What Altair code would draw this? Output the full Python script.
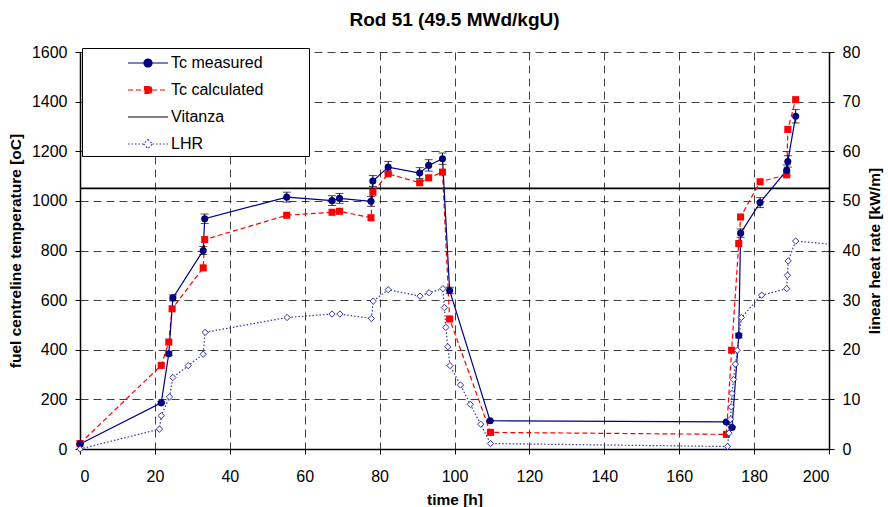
import altair as alt
import pandas as pd

# ---------------- data ----------------
meas_h = [0, 21.7, 23.7, 24.8, 32.9, 33.3, 55.2, 67.3, 69.3, 77.7, 78.2, 82.3, 90.7, 93.1, 96.8,
          98.7, 109.5, 172.6, 174.1, 175.9, 176.4, 181.6, 188.7, 189.0, 191.1]
meas_T = [20, 186, 384, 609, 800, 928, 1015, 1001, 1010, 998, 1080, 1136, 1112, 1143, 1170,
          639, 114, 109, 87, 457, 870, 993, 1123, 1159, 1341]
meas_err = [0, 4, 8, 12, 16, 19, 20, 20, 20, 20, 22, 23, 22, 23, 23,
            13, 2, 2, 2, 9, 17, 20, 22, 23, 27]

calc_h = [0, 21.7, 23.7, 24.6, 32.9, 33.3, 55.2, 67.3, 69.3, 77.7, 78.2, 82.3, 90.7, 93.1, 96.8,
          98.7, 109.6, 172.6, 174.0, 175.9, 176.4, 181.6, 188.7, 189.0, 191.1]
calc_T = [22, 337, 431, 565, 730, 844, 942, 954, 958, 932, 1035, 1109, 1073, 1093, 1116,
          524, 67, 59, 398, 828, 935, 1077, 1105, 1288, 1408]

lhr_h = [0, 21.2, 21.7, 23.9, 24.8, 28.9, 32.9, 33.4, 55.3, 67.3, 69.4, 77.8, 78.3, 82.3, 90.8,
         93.2, 96.9, 97.3, 97.7, 98.2, 98.8, 101.6, 104.2, 107.0, 109.6, 172.9, 173.3, 173.7,
         173.9, 174.1, 174.5, 175.0, 175.5, 176.6, 182.0, 188.7, 188.9, 189.1, 191.1, 200.0]
lhr_q = [0, 4.0, 6.7, 10.5, 14.4, 16.8, 19.1, 23.5, 26.5, 27.2, 27.2, 26.3, 29.8, 32.1, 30.8,
         31.5, 32.3, 28.5, 24.5, 20.6, 16.8, 12.9, 9.0, 5.0, 1.1, 0.5, 3.2, 6.0,
         8.5, 11.2, 14.0, 17.1, 19.9, 26.5, 31.0, 32.3, 35.0, 37.9, 41.9, 41.3]

vitanza_T = [1050]

series = ["Tc measured", "Tc calculated", "Vitanza", "LHR"]
series_colors = ["#000080", "#ff0000", "#000000", "#3333aa"]
series_fills = ["#000080", "#ff0000", "transparent", "#ffffff"]
series_dash = [[1, 0], [5, 3], [1, 0], [1.5, 2]]
# legend glyphs: short line with the series' marker; the trailing move-to only widens the legend box
series_symbols = [
    "M-2,0H2M-0.4,0A0.4,0.4,0,1,0,0.4,0A0.4,0.4,0,1,0,-0.4,0ZM15.4,0",
    "M-2,0H2M-0.35,-0.35H0.35V0.35H-0.35ZM15.4,0",
    "M-2,0H2M15.4,0",
    "M-2,0H-0.45M0.45,0H2M0,-0.45L0.45,0L0,0.45L-0.45,0ZM15.4,0",
]

meas = pd.DataFrame({"h": meas_h, "T": meas_T, "err": meas_err})
calc = pd.DataFrame({"h": calc_h, "T": calc_T})
lhr = pd.DataFrame({"h": lhr_h, "q": lhr_q})
vit = pd.DataFrame({"T": vitanza_T})
leg = pd.DataFrame({"series": series})

FONT = "Liberation Sans"
xscale = alt.Scale(domain=[0, 200], nice=False)
yscale = alt.Scale(domain=[0, 1600], nice=False)
y2scale = alt.Scale(domain=[0, 80], nice=False)

x_axis = alt.Axis(title="time [h]", values=list(range(0, 201, 20)), grid=True, format="d",
                  titleAnchor="middle", titlePadding=8, labelPadding=14)
y_axis = alt.Axis(title="fuel centreline temperature [oC]", values=list(range(0, 1601, 200)),
                  format="d", grid=True, titlePadding=8, labelPadding=8)
y2_axis = alt.Axis(title="linear heat rate [kW/m]", values=list(range(0, 81, 10)), grid=False,
                   format="d", orient="right", titlePadding=8, titleAngle=270,
                   titleBaseline="top", labelPadding=8)

X = alt.X("h:Q", scale=xscale, axis=x_axis)

meas_line = alt.Chart(meas).mark_line(color="#000080", strokeWidth=1.2).encode(
    x=X, y=alt.Y("T:Q", scale=yscale, axis=y_axis))
err_rule = alt.Chart(meas).transform_calculate(
    lo="datum.T - datum.err", hi="datum.T + datum.err").mark_rule(
    color="black", strokeWidth=1).encode(x="h:Q", y="lo:Q", y2="hi:Q")
err_lo = alt.Chart(meas).transform_calculate(lo="datum.T - datum.err").mark_tick(
    orient="horizontal", size=8, thickness=1, color="black").encode(x="h:Q", y="lo:Q")
err_hi = alt.Chart(meas).transform_calculate(hi="datum.T + datum.err").mark_tick(
    orient="horizontal", size=8, thickness=1, color="black").encode(x="h:Q", y="hi:Q")
meas_pts = alt.Chart(meas).mark_point(shape="circle", filled=True, size=50, color="#000080",
                                      opacity=1).encode(x="h:Q", y="T:Q")

calc_line = alt.Chart(calc).mark_line(color="#ff0000", strokeWidth=1.2,
                                      strokeDash=[5, 3]).encode(x="h:Q", y="T:Q")
calc_pts = alt.Chart(calc).mark_point(shape="square", filled=True, size=50, color="#ff0000",
                                      opacity=1).encode(x="h:Q", y="T:Q")

vit_rule = alt.Chart(vit).mark_rule(color="black", strokeWidth=1.8).encode(y="T:Q")

left = alt.layer(vit_rule, calc_line, meas_line, err_rule, err_lo, err_hi, calc_pts, meas_pts)

lhr_line = alt.Chart(lhr).mark_line(color="#3333aa", strokeWidth=1.2,
                                    strokeDash=[1.5, 2]).encode(
    x="h:Q", y=alt.Y("q:Q", scale=y2scale, axis=y2_axis))
lhr_pts = alt.Chart(lhr).transform_filter("datum.h < 200").mark_point(
    shape="diamond", filled=False, size=40, color="#3333aa", strokeWidth=1, opacity=1,
    fill="white").encode(x="h:Q", y="q:Q")
right = alt.layer(lhr_line, lhr_pts)

legend = alt.Legend(title=None, orient="none", legendX=2, legendY=-4,
                    symbolSize=400, symbolStrokeWidth=1.2, symbolOpacity=1, labelFontSize=16,
                    labelFont=FONT, labelColor="black", rowPadding=8, padding=4,
                    symbolOffset=51, labelOffset=12, strokeColor="black", fillColor="white",
                    labelLimit=400)
leg_layer = alt.Chart(leg).transform_filter("datum.series == 'none'").mark_point(
    filled=False, opacity=1).encode(
    shape=alt.Shape("series:N", scale=alt.Scale(domain=series, range=series_symbols), legend=legend),
    color=alt.Color("series:N", scale=alt.Scale(domain=series, range=series_colors), legend=legend),
    fill=alt.Fill("series:N", scale=alt.Scale(domain=series, range=series_fills), legend=legend),
    strokeDash=alt.StrokeDash("series:N", scale=alt.Scale(domain=series, range=series_dash),
                              legend=legend),
)

chart = alt.layer(left, right, leg_layer).resolve_scale(y="independent").properties(
    width=749, height=397,
    background="white",
    title=alt.Title("Rod 51 (49.5 MWd/kgU)", font=FONT, fontSize=19, fontWeight="bold",
                    color="black", anchor="middle", offset=14),
    autosize=alt.AutoSizeParams(type="none"),
    padding={"left": 80, "top": 52, "right": 59, "bottom": 58},
).configure_view(stroke=None).configure_axis(
    labelFont=FONT, labelFontSize=16, labelColor="black", titleFont=FONT, titleFontSize=15.5,
    titleFontWeight="bold", titleColor="black", domainColor="black", domainWidth=1.5,
    tickColor="black", tickSize=5, gridColor="black", gridDash=[8, 5],
    gridWidth=1, gridOpacity=0.75,
)

chart.save("out.html", embed_options={"renderer": "svg", "actions": False})
